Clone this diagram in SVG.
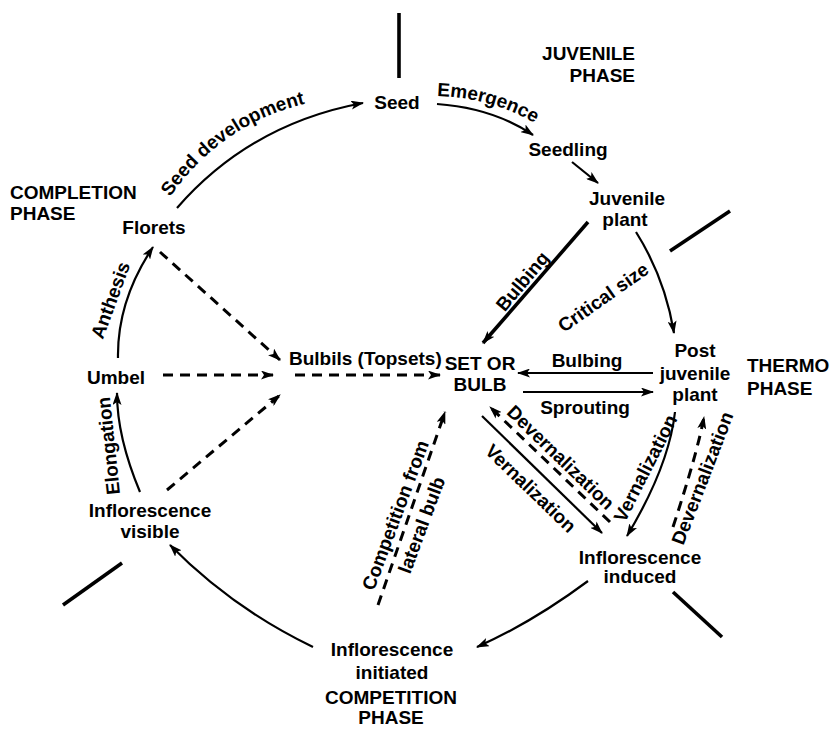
<svg xmlns="http://www.w3.org/2000/svg" width="831" height="729" viewBox="0 0 831 729">
<defs>
<marker id="ah" viewBox="0 0 13 9" refX="12" refY="4.5" markerWidth="13" markerHeight="9" markerUnits="userSpaceOnUse" orient="auto"><path d="M0,0 L13,4.5 L0,9 L3,4.5 z" fill="#000"/></marker>
<path id="tpSeed" d="M170,197 Q 226,118 318,101"/>
<path id="tpEmer" d="M437,96 Q 495,98 539,126"/>
</defs>
<style>
text{font-family:"Liberation Sans",Arial,sans-serif;font-size:19px;font-weight:bold;fill:#000}
.m{text-anchor:middle}
.e{text-anchor:end}
.c{fill:none;stroke:#000;stroke-width:2.2}
.d{fill:none;stroke:#000;stroke-width:3;stroke-dasharray:10 7}
.t{fill:none;stroke:#000;stroke-width:3.6}
.sep{stroke:#000;stroke-width:3.6;fill:none}
</style>
<rect width="831" height="729" fill="#fff"/>

<g id="separators">
<line class="sep" x1="399" y1="13" x2="399" y2="78"/>
<line class="sep" x1="670" y1="251" x2="730" y2="211"/>
<line class="sep" x1="673" y1="592" x2="722" y2="637"/>
<line class="sep" x1="63" y1="605" x2="122" y2="563"/>
</g>

<g id="connectors">
<path class="c" d="M177,208 Q 250,124 363,103" marker-end="url(#ah)"/>
<path class="c" d="M437,104 Q 493,108 533,135" marker-end="url(#ah)"/>
<path class="c" d="M572,162 L598,183" marker-end="url(#ah)"/>
<path class="t" d="M588,222 L483,343" marker-end="url(#ah)"/>
<path class="c" d="M636,232 Q 665,278 674,333" marker-end="url(#ah)"/>
<path class="c" d="M653,373 L518,373" marker-end="url(#ah)"/>
<path class="c" d="M523,392 L653,392" marker-end="url(#ah)"/>
<path class="c" d="M482,416 L602,533" marker-end="url(#ah)"/>
<path class="d" d="M610,522 L490,407" marker-end="url(#ah)"/>
<path class="c" d="M675,412 Q 669,466 627,536" marker-end="url(#ah)"/>
<path class="d" d="M673,527 Q 697,454 704,417" marker-end="url(#ah)"/>
<path class="c" d="M588,581 Q 533,622 477,647" marker-end="url(#ah)"/>
<path class="c" d="M313,647 Q 232,608 170,545" marker-end="url(#ah)"/>
<path class="c" d="M140,492 Q 117,437 117,393" marker-end="url(#ah)"/>
<path class="c" d="M118,358 Q 117,301 153,247" marker-end="url(#ah)"/>
<path class="d" d="M160,252 L280,360" marker-end="url(#ah)"/>
<path class="d" d="M163,375 L273,375" marker-end="url(#ah)"/>
<path class="d" d="M167,490 L280,395" marker-end="url(#ah)"/>
<path class="d" d="M295,375 L440,375" marker-end="url(#ah)"/>
<path class="d" d="M378,605 L445,412" marker-end="url(#ah)"/>
</g>

<g id="edge-labels">
<text><textPath href="#tpSeed">Seed development</textPath></text>
<text><textPath href="#tpEmer">Emergence</textPath></text>
<text class="m" transform="translate(522,281) rotate(-50)" y="7">Bulbing</text>
<text class="m" transform="translate(603,297) rotate(-35)" y="7">Critical size</text>
<text class="m" x="587" y="367">Bulbing</text>
<text class="m" x="585" y="414">Sprouting</text>
<text class="m" transform="translate(561,457) rotate(44)" y="7">Devernalization</text>
<text class="m" transform="translate(531,488) rotate(44)" y="7">Vernalization</text>
<text class="m" transform="translate(645,468) rotate(-63)" y="7">Vernalization</text>
<text class="m" transform="translate(702,478) rotate(-69)" y="7">Devernalization</text>
<g transform="translate(395,515) rotate(-69.5)">
<text class="m" y="7">Competition from</text>
<text class="m" y="35">lateral bulb</text>
</g>
<text class="m" transform="translate(108,446) rotate(-96)" y="7">Elongation</text>
<text class="m" transform="translate(110,300) rotate(-70)" y="7">Anthesis</text>
</g>

<g id="phase-labels">
<text class="e" x="635" y="60">JUVENILE</text>
<text class="e" x="635" y="82">PHASE</text>
<text x="747" y="372">THERMO</text>
<text x="747" y="395">PHASE</text>
<text class="m" x="391" y="704">COMPETITION</text>
<text class="m" x="391" y="724">PHASE</text>
<text x="10" y="199">COMPLETION</text>
<text x="10" y="220">PHASE</text>
</g>

<g id="node-seed"><text class="m" x="397" y="109">Seed</text></g>
<g id="node-seedling"><text class="m" x="568" y="156">Seedling</text></g>
<g id="node-juvenile"><text class="m" x="627" y="205">Juvenile</text><text class="m" x="625" y="226">plant</text></g>
<g id="node-post"><text class="m" x="695" y="357">Post</text><text class="m" x="695" y="380">juvenile</text><text class="m" x="695" y="401">plant</text></g>
<g id="node-set"><text class="m" x="480" y="370">SET OR</text><text class="m" x="480" y="391">BULB</text></g>
<g id="node-induced"><text class="m" x="640" y="564">Inflorescence</text><text class="m" x="640" y="583">induced</text></g>
<g id="node-initiated"><text class="m" x="392" y="656">Inflorescence</text><text class="m" x="392" y="679">initiated</text></g>
<g id="node-visible"><text class="m" x="150" y="517">Inflorescence</text><text class="m" x="150" y="538">visible</text></g>
<g id="node-umbel"><text class="m" x="116" y="384">Umbel</text></g>
<g id="node-florets"><text class="m" x="154" y="234">Florets</text></g>
<g id="node-bulbils"><text x="289" y="365">Bulbils (Topsets)</text></g>
</svg>
